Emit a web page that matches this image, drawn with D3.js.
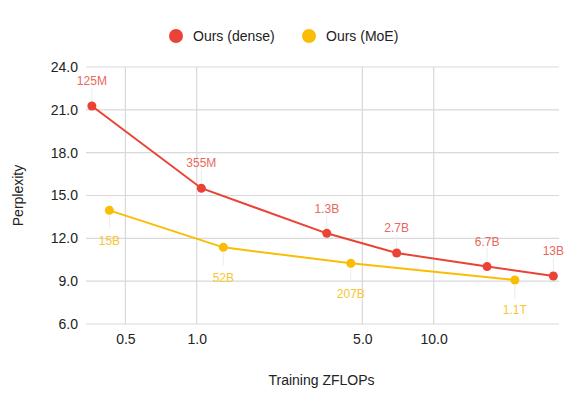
<!DOCTYPE html>
<html>
<head>
<meta charset="utf-8">
<script src="https://cdn.jsdelivr.net/npm/d3@7"></script>
<style>
  body { margin: 0; background: #fff; }
  text { font-family: Arial, "Liberation Sans", sans-serif; }
</style>
</head>
<body>
<div id="vis"></div>
<script>
// values
var seriesNames = ["Ours (dense)", "Ours (MoE)"];
var denseFlops = [0.361, 1.046, 3.54, 6.98, 16.8, 32.0];
var densePpl = [21.27, 15.51, 12.35, 10.97, 10.02, 9.36];
var denseLabels = ["125M", "355M", "1.3B", "2.7B", "6.7B", "13B"];
var moeFlops = [0.428, 1.295, 4.47, 22.0];
var moePpl = [13.96, 11.37, 10.25, 9.08];
var moeLabels = ["15B", "52B", "207B", "1.1T"];
var xTicks = [0.5, 1, 5, 10];
var yTicks = [6, 9, 12, 15, 18, 21, 24];

var colors = ["#ea4335", "#fbbc04"];
var labelColors = ["#e8685d", "#f7c632"];
var font = "Arial, 'Liberation Sans', sans-serif";

var margin = { top: 67, right: 24, bottom: 76, left: 86 };
var W = 583, H = 400;
var width = W - margin.left - margin.right;
var height = H - margin.top - margin.bottom;

var svg = d3.select("#vis").append("svg")
  .attr("width", W)
  .attr("height", H);

var g = svg.append("g")
  .attr("transform", "translate(" + margin.left + "," + margin.top + ")");

var x = d3.scaleLog().domain([0.341, 33.8]).range([0, width]);
var y = d3.scaleLinear().domain([6, 24]).range([height, 0]);

// grid
g.selectAll(".hgrid").data(yTicks).enter().append("line")
  .attr("class", "hgrid")
  .attr("x1", 0).attr("x2", width)
  .attr("y1", function(d) { return y(d); })
  .attr("y2", function(d) { return y(d); })
  .attr("stroke", "#d9d9d9").attr("stroke-width", 1.2);

g.selectAll(".vgrid").data(xTicks).enter().append("line")
  .attr("class", "vgrid")
  .attr("y1", 0).attr("y2", height)
  .attr("x1", function(d) { return x(d); })
  .attr("x2", function(d) { return x(d); })
  .attr("stroke", "#d9d9d9").attr("stroke-width", 1.2);

// axes (labels only)
var yAxis = d3.axisLeft(y).tickValues(yTicks).tickSize(0).tickPadding(8)
  .tickFormat(d3.format(".1f"));
var xAxis = d3.axisBottom(x).tickValues(xTicks).tickSize(0).tickPadding(10)
  .tickFormat(d3.format(".1f"));

g.append("g").attr("class", "y axis").call(yAxis)
  .call(function(s) { s.select(".domain").remove(); })
  .selectAll("text")
  .style("font-size", "14px").style("fill", "#222")
  .style("font-family", font);

g.append("g").attr("class", "x axis")
  .attr("transform", "translate(0," + height + ")")
  .call(xAxis)
  .call(function(s) { s.select(".domain").remove(); })
  .selectAll("text")
  .style("font-size", "14px").style("fill", "#222")
  .style("font-family", font);

var datasets = [
  { flops: denseFlops, ppl: densePpl, labels: denseLabels, dir: -1 },
  { flops: moeFlops, ppl: moePpl, labels: moeLabels, dir: 1 }
];

var line = d3.line()
  .x(function(d) { return x(d.f); })
  .y(function(d) { return y(d.p); });

datasets.forEach(function(ds, k) {
  var pts = ds.flops.map(function(f, i) {
    return { f: f, p: ds.ppl[i], l: ds.labels[i] };
  });

  // leader lines
  g.selectAll(".lead" + k).data(pts).enter().append("line")
    .attr("x1", function(d) { return x(d.f); })
    .attr("x2", function(d) { return x(d.f); })
    .attr("y1", function(d) { return y(d.p) + ds.dir * 5; })
    .attr("y2", function(d) { return y(d.p) + ds.dir * 18; })
    .attr("stroke", "#ececec").attr("stroke-width", 1);

  g.append("path")
    .datum(pts)
    .attr("fill", "none")
    .attr("stroke", colors[k])
    .attr("stroke-width", 2)
    .attr("d", line);

  g.selectAll(".dot" + k).data(pts).enter().append("circle")
    .attr("cx", function(d) { return x(d.f); })
    .attr("cy", function(d) { return y(d.p); })
    .attr("r", 4.5)
    .attr("fill", colors[k]);

  g.selectAll(".lab" + k).data(pts).enter().append("text")
    .attr("x", function(d) { return x(d.f); })
    .attr("y", function(d) { return y(d.p) + (ds.dir < 0 ? -25 : 30); })
    .attr("dy", "0.35em")
    .attr("text-anchor", "middle")
    .style("font-size", "12px")
    .style("fill", labelColors[k])
    .text(function(d) { return d.l; });
});

// legend
var legendX = [176, 309];
var legend = svg.selectAll(".legend").data(seriesNames).enter().append("g")
  .attr("class", "legend")
  .attr("transform", function(d, i) { return "translate(" + legendX[i] + ",36)"; });

legend.append("circle").attr("r", 7).attr("fill", function(d, i) { return colors[i]; });
legend.append("text")
  .attr("x", 17).attr("dy", "0.35em")
  .style("font-size", "14px").style("fill", "#222")
  .text(function(d) { return d; });

// axis titles
svg.append("text")
  .attr("x", margin.left + width / 2 - 1)
  .attr("y", 385)
  .attr("text-anchor", "middle")
  .style("font-size", "14px").style("fill", "#222")
  .text("Training ZFLOPs");

svg.append("text")
  .attr("transform", "translate(23," + (margin.top + height / 2) + ") rotate(-90)")
  .attr("text-anchor", "middle")
  .style("font-size", "14px").style("fill", "#222")
  .text("Perplexity");
</script>
</body>
</html>
